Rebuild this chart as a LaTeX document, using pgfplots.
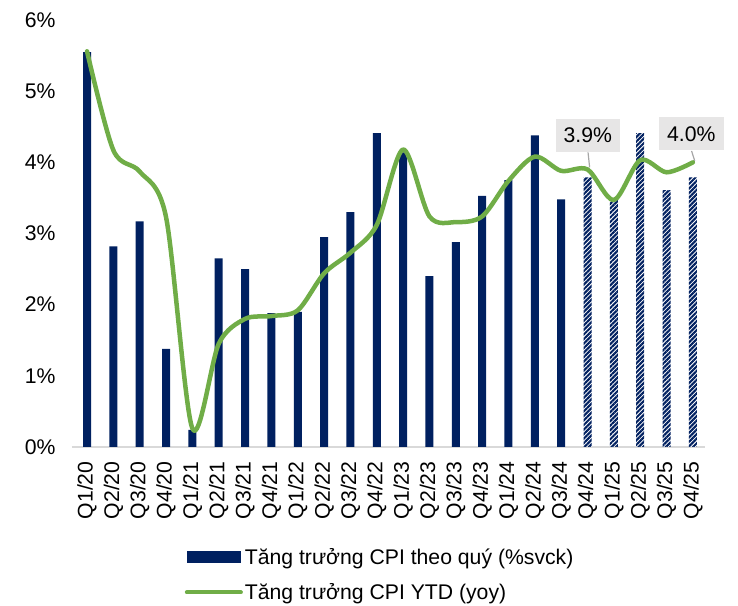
\documentclass[border=0pt]{standalone}
\usepackage{pgfplots}
\pgfplotsset{compat=1.18}
\usepackage{fontspec}
\setmainfont{Liberation Sans}
\usetikzlibrary{patterns.meta}
\definecolor{navy}{HTML}{002060}
\definecolor{cgreen}{HTML}{70AD47}
\definecolor{axgray}{HTML}{D9D9D9}
\definecolor{boxgray}{HTML}{E7E6E6}
\definecolor{leadgray}{HTML}{A6A6A6}
\begin{document}
\begin{tikzpicture}
\begin{axis}[
  name=ax,
  scale only axis,
  width=633bp, height=427bp,
  xmin=-0.57, xmax=23.46,
  ymin=0, ymax=6,
  axis x line*=bottom, axis y line*=left,
  x axis line style={draw=axgray, line width=1.5bp, -},
  y axis line style={draw=none},
  major tick length=0pt,
  xtick={0,...,23},
  xticklabels={Q1/20,Q2/20,Q3/20,Q4/20,Q1/21,Q2/21,Q3/21,Q4/21,Q1/22,Q2/22,Q3/22,Q4/22,Q1/23,Q2/23,Q3/23,Q4/23,Q1/24,Q2/24,Q3/24,Q4/24,Q1/25,Q2/25,Q3/25,Q4/25},
  ytick={0,1,2,3,4,5,6},
  yticklabels={0\%,1\%,2\%,3\%,4\%,5\%,6\%},
  tick label style={font=\fontsize{21.2bp}{25bp}\selectfont, text=black},
  xticklabel style={rotate=90, anchor=east, yshift=0bp, xshift=-11bp},
  yticklabel style={anchor=east, xshift=-13bp},
  /pgf/number format/assume math mode=true,
  legend style={at={(0.178,-0.232)}, anchor=north west, draw=none, fill=none,
    font=\fontsize{21.2bp}{25bp}\selectfont, row sep=14bp, inner sep=0pt,
    /tikz/every even column/.append style={column sep=4bp}},
  legend cell align=left,
  clip=false,
]
\addplot[ybar, bar width=8bp, bar shift=0pt, fill=navy, draw=none,
  legend image code/.code={\fill[navy] (0bp,-5.5bp) rectangle (54bp,5.5bp);}]
  coordinates {(0,5.55) (1,2.82) (2,3.17) (3,1.38) (4,0.24) (5,2.65) (6,2.50) (7,1.88) (8,1.90) (9,2.95) (10,3.30) (11,4.41) (12,4.14) (13,2.40) (14,2.88) (15,3.53) (16,3.75) (17,4.38) (18,3.48)};
\addlegendentry{Tăng trưởng CPI theo quý (\%svck)}
\addplot[ybar, bar width=8bp, bar shift=0pt, draw=none, fill=white,
  postaction={pattern={Lines[angle=45, distance=3.2bp, line width=2.1bp]}, pattern color=navy}, forget plot]
  coordinates {(19,3.79) (20,3.47) (21,4.41) (22,3.61) (23,3.79)};
\addplot[cgreen, line width=4.5bp, smooth, no markers, line cap=round, line join=round,
  legend image code/.code={\draw[cgreen, line width=4bp, line cap=round] (0bp,0bp) -- (54bp,0bp);}]
  coordinates {(0,5.56) (1,4.17) (2,3.87) (3,3.23) (4,0.26) (5,1.45) (6,1.80) (7,1.84) (8,1.92) (9,2.44) (10,2.73) (11,3.12) (12,4.18) (13,3.24) (14,3.16) (15,3.24) (16,3.74) (17,4.08) (18,3.88) (19,3.90) (20,3.47) (21,4.03) (22,3.86) (23,4.00)};
\addlegendentry{Tăng trưởng CPI YTD (yoy)}
\draw[leadgray, line width=1.2bp] (axis cs:19.02,4.14) -- (axis cs:19.08,3.93);
\draw[leadgray, line width=1.2bp] (axis cs:22.95,4.16) -- (axis cs:23.07,4.02);
\node[fill=boxgray, minimum width=64bp, minimum height=33bp, inner sep=0pt,
  font=\fontsize{21.2bp}{25bp}\selectfont] at (axis cs:19.01,4.38) {3.9\%};
\node[fill=boxgray, minimum width=65bp, minimum height=33bp, inner sep=0pt,
  font=\fontsize{21.2bp}{25bp}\selectfont] at (axis cs:22.94,4.40) {4.0\%};
\end{axis}
\pgfresetboundingbox
\path ([shift={(-72bp,-159bp)}]ax.south west) rectangle ([shift={(33bp,20bp)}]ax.north east);
\end{tikzpicture}
\end{document}
